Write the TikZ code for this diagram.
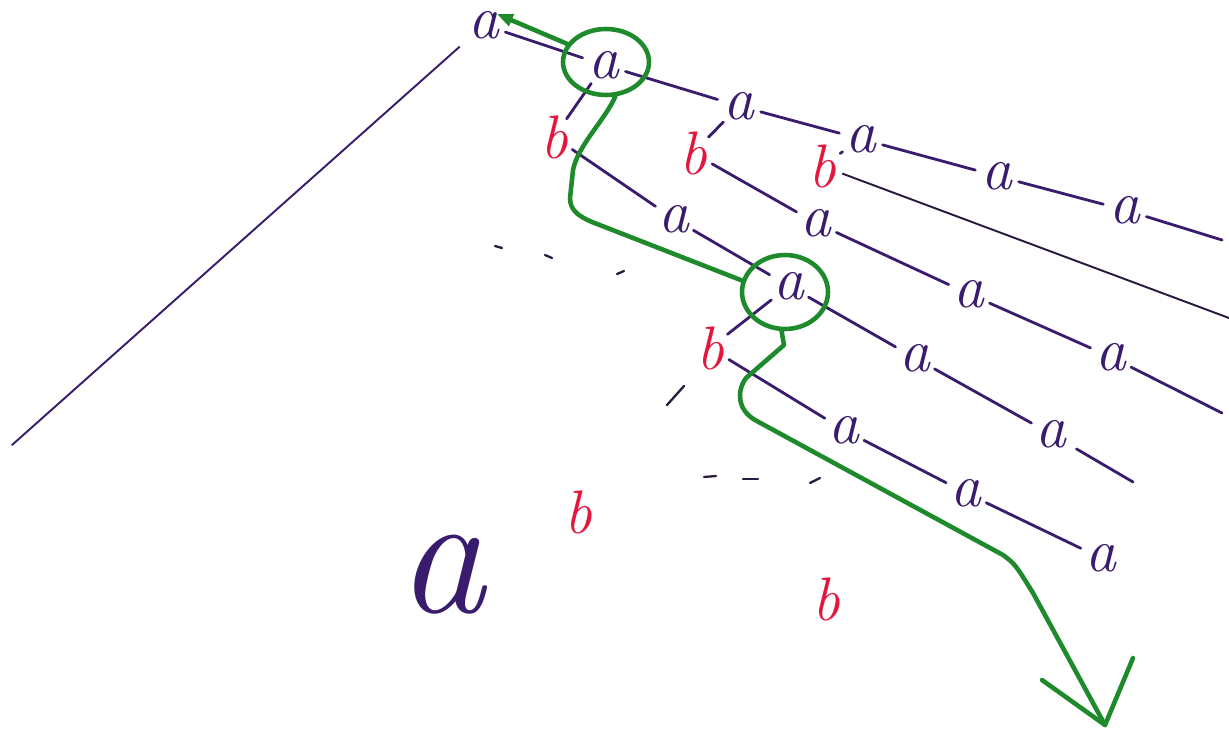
\documentclass[tikz,border=0pt]{standalone}
\usepackage{fontspec}
\usetikzlibrary{shapes.geometric,arrows.meta}
\definecolor{ink}{HTML}{3A1C6E}
\definecolor{rd}{HTML}{E3173E}
\definecolor{gr}{HTML}{1E8A2C}
\definecolor{dk}{HTML}{2A1A40}
\begin{document}
\begin{tikzpicture}[x=0.02cm,y=-0.02cm,
  anode/.style={circle,inner sep=0pt,outer sep=1pt,text=ink,font=\fontsize{35}{35}\selectfont\itshape},
  bnode/.style={circle,inner sep=0pt,outer sep=-2pt,text=rd,font=\fontsize{35}{35}\selectfont\itshape},
  link/.style={draw=ink,line width=1.6pt,line cap=round},
  thinlink/.style={draw=dk,line width=1.1pt,line cap=round},
  ring/.style={ellipse,draw=gr,line width=2.6pt,inner sep=0pt},
  gpath/.style={draw=gr,line width=2.6pt,line cap=round,line join=round},
  tick/.style={draw=dk,line width=1.3pt,line cap=round}]
\useasboundingbox (0,0) rectangle (1229,738);
\fill[white] (0,0) rectangle (1229,738);
% a nodes
\node[anode] (a0) at (484,25) {a};
\node[anode] (a1) at (604,65) {a};
\node[anode] (a2) at (739,106) {a};
\node[anode] (a3) at (861,139) {a};
\node[anode] (a4) at (997,176) {a};
\node[anode] (a5) at (1125,210) {a};
\node[anode] (a6) at (674,219) {a};
\node[anode] (a7) at (816,223) {a};
\node[anode] (a8) at (969,294) {a};
\node[anode] (a9) at (1111,357) {a};
\node[anode] (a10) at (789,286) {a};
\node[anode] (a11) at (915,358) {a};
\node[anode] (a12) at (1051,434) {a};
\node[anode] (a13) at (844,430) {a};
\node[anode] (a14) at (966,493) {a};
\node[anode] (a15) at (1101,558) {a};
\node[text=ink,font=\fontsize{100}{100}\selectfont\itshape,inner sep=0pt] (abig) at (441,575) {a};
% b nodes
\node[bnode] (b1) at (554,137) {b};
\node[bnode] (b2) at (693,153) {b};
\node[bnode] (b3) at (822,166) {b};
\node[bnode] (b4) at (710,348) {b};
\node[bnode] (b5) at (578,512) {b};
\node[bnode] (b6) at (826,599) {b};
% free ends
\coordinate (e1) at (1222,240);
\coordinate (e2) at (1229,318);
\coordinate (e3) at (1222,413);
\coordinate (e4) at (1133,482);
\coordinate (e5) at (12,445);
% connectors
\draw[link] (a0) -- (a1);
\draw[link] (a1) -- (a2);
\draw[link] (a2) -- (a3);
\draw[link] (a3) -- (a4);
\draw[link] (a4) -- (a5);
\draw[link] (a5) -- (e1);
\draw[link] (a1) -- (b1);
\draw[link] (a2) -- (b2);
\draw[link] (a3) -- (b3);
\draw[link] (b1) -- (a6);
\draw[link] (b2) -- (a7);
\draw[thinlink] (b3) -- (e2);
\draw[link] (a6) -- (a10);
\draw[link] (a7) -- (a8);
\draw[link] (a8) -- (a9);
\draw[link] (a9) -- (e3);
\draw[link] (a10) -- (a11);
\draw[link] (a11) -- (a12);
\draw[link,shorten <=4pt] (a12) -- (e4);
\draw[link] (a10) -- (b4);
\draw[link] (b4) -- (a13);
\draw[link] (a13) -- (a14);
\draw[link] (a14) -- (a15);
\draw[thinlink,draw=ink,shorten <=6pt] (a0) -- (e5);
% dashes
\draw[tick] (495,246) -- (502,248);
\draw[tick] (545,255) -- (552,258);
\draw[tick] (617,274) -- (624,271);
\draw[tick] (667,405) -- (684,386);
\draw[tick] (704,477) -- (716,476);
\draw[tick] (743,479) -- (758,479);
\draw[tick] (810,483) -- (820,478);
% green path
\node[ring,minimum width=1.72cm,minimum height=1.32cm] (r1) at (606,62) {};
\node[ring,minimum width=1.72cm,minimum height=1.48cm] (r2) at (785,292) {};
\coordinate (g0) at (497,14);
\coordinate (g1) at (573,170);
\coordinate (g2) at (570,198);
\coordinate (g3) at (592,222);
\coordinate (g4) at (784,345);
\coordinate (g5) at (746,378);
\coordinate (g6) at (755,420);
\coordinate (g7) at (1003,555);
\coordinate (g8) at (1033,593);
\coordinate (tip) at (1105,725);
\coordinate (bl) at (1042,680);
\coordinate (br) at (1133,658);
\draw[gpath,-{Triangle[length=9pt,width=7pt]}] (r1.155) -- (g0);
\draw[gpath] (r1.-75) .. controls (605,120) and (578,145) .. (g1) -- (g2)
  .. controls (570,210) and (578,216) .. (g3) -- (r2.165);
\draw[gpath] (r2.-95) -- (g4) -- (g5) .. controls (736,392) and (738,410) .. (g6)
  -- (g7) .. controls (1015,564) .. (g8) -- (tip);
\draw[gpath] (bl) -- (tip) -- (br);
\end{tikzpicture}
\end{document}
